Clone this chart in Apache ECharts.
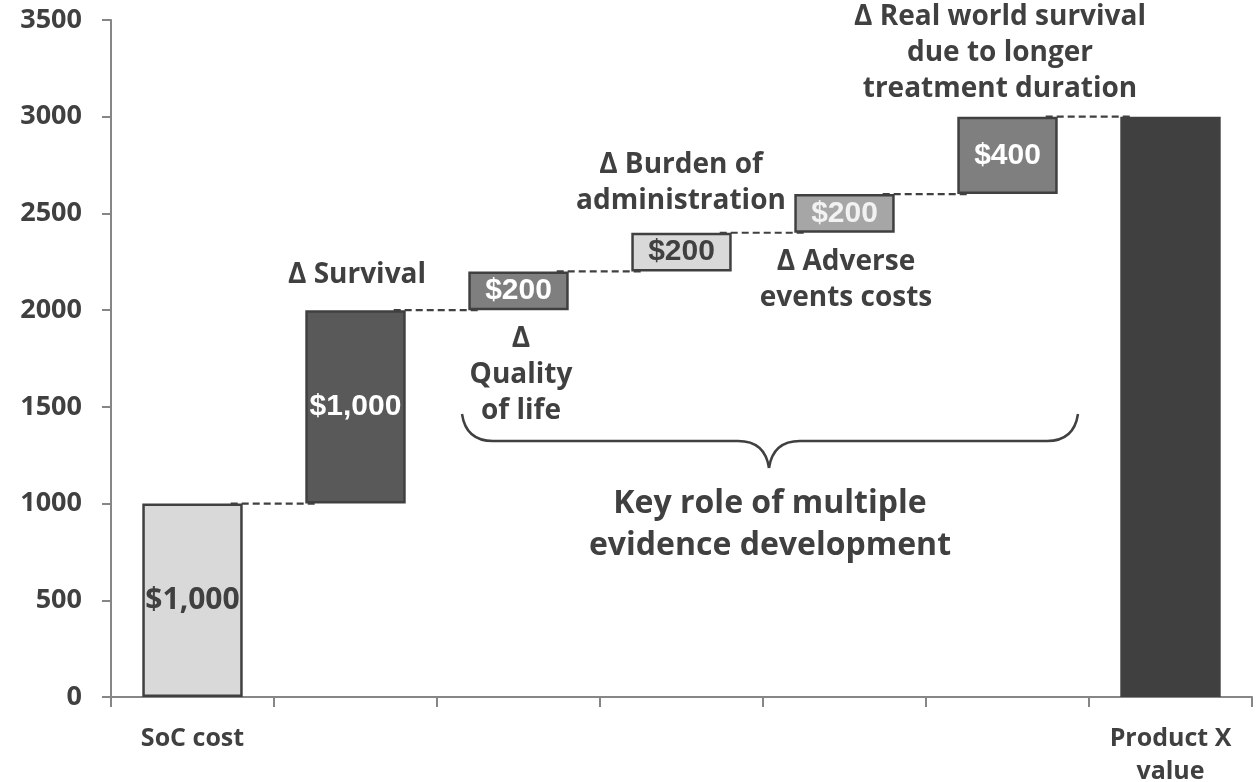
<!DOCTYPE html>
<html>
<head>
<meta charset="utf-8">
<script src="https://cdn.jsdelivr.net/npm/echarts@6/dist/echarts.min.js"></script>
<style>
  html, body { margin: 0; padding: 0; background: #fff; }
  #chart { width: 1259px; height: 782px; }
</style>
</head>
<body>
<div id="chart"></div>
<script>
// categories and values of the waterfall
var categories = ['SoC cost', 'Δ Survival', 'Δ Quality of life', 'Δ Burden of administration',
                  'Δ Adverse events costs', 'Δ Real world survival', 'Product X value'];
var tickLabels = ['SoC cost', '', '', '', '', '', 'Product X\nvalue'];
var deltas = [1000, 1000, 200, 200, 200, 400, 3000];
var isTotal = [true, false, false, false, false, false, true];
var valueLabels = ['$1,000', '$1,000', '$200', '$200', '$200', '$400', ''];
var barColors = ['#d9d9d9', '#595959', '#7f7f7f', '#d9d9d9', '#a6a6a6', '#7f7f7f', '#404040'];
var labelColors = ['#404040', '#ffffff', '#ffffff', '#404040', '#f2f2f2', '#ffffff', '#ffffff'];

// invisible base under each step
var bases = [];
var running = 0;
for (var i = 0; i < deltas.length; i++) {
    if (isTotal[i]) { bases.push(0); running = deltas[i]; }
    else { bases.push(running); running += deltas[i]; }
}
// connector levels: top of each bar, joined to the next one
var connectors = [];
for (var j = 0; j < deltas.length - 1; j++) {
    connectors.push([j, bases[j] + deltas[j]]);
}

var BAR_RATIO = 0.616;
var TEXT = '#404040';
var AXIS = '#868686';
var FONT = '"Open Sans", Lato, sans-serif';

var myChart = echarts.init(document.getElementById('chart'));

// annotation text, y = centre of first line
function note(text, x, yFirst, size, lh) {
    return {
        type: 'text',
        z: 100,
        style: {
            text: text,
            x: x,
            y: yFirst - lh / 2,
            align: 'center',
            verticalAlign: 'top',
            fontFamily: FONT,
            fontWeight: 'bold',
            fontSize: size,
            lineHeight: lh,
            fill: TEXT
        }
    };
}

function curve(x1, y1, cx, cy, x2, y2) {
    return {
        type: 'bezierCurve', z: 100,
        shape: { x1: x1, y1: y1, cpx1: cx, cpy1: cy, x2: x2, y2: y2 },
        style: { fill: null, stroke: TEXT, lineWidth: 2.5 }
    };
}
function seg(x1, y1, x2, y2) {
    return {
        type: 'line', z: 100,
        shape: { x1: x1, y1: y1, x2: x2, y2: y2 },
        style: { stroke: TEXT, lineWidth: 2.5 }
    };
}

var option = {
    animation: false,
    grid: { left: 111, right: 7, top: 20, bottom: 85, containLabel: false, outerBoundsMode: 'none' },
    xAxis: {
        type: 'category',
        data: categories,
        axisLine: { lineStyle: { color: AXIS, width: 2 } },
        axisTick: { show: true, length: 10, lineStyle: { color: AXIS, width: 2 } },
        axisLabel: {
            interval: 0,
            margin: 25,
            color: TEXT,
            fontFamily: FONT,
            fontWeight: 'bold',
            fontSize: 25,
            lineHeight: 33,
            formatter: function (v, idx) { return tickLabels[idx]; }
        }
    },
    yAxis: {
        type: 'value',
        min: 0,
        max: 3500,
        interval: 500,
        axisLine: { show: true, lineStyle: { color: AXIS, width: 2 } },
        axisTick: { show: true, length: 9, lineStyle: { color: AXIS, width: 2 } },
        splitLine: { show: false },
        axisLabel: {
            margin: 29,
            color: TEXT,
            fontFamily: FONT,
            fontWeight: 'bold',
            fontSize: 27,
            formatter: function (v) { return String(v); }
        }
    },
    series: [
        {
            type: 'custom',
            z: 1,
            renderItem: function (params, api) {
                var idx = api.value(0);
                var level = api.value(1);
                var p1 = api.coord([idx, level]);
                var p2 = api.coord([idx + 1, level]);
                var half = api.size([1, 0])[0] * BAR_RATIO / 2;
                return {
                    type: 'line',
                    shape: { x1: p1[0] + half - 12, y1: p1[1], x2: p2[0] - half + 12, y2: p2[1] },
                    style: { stroke: TEXT, lineWidth: 2.2, lineDash: [7, 4] }
                };
            },
            encode: { x: 0, y: 1 },
            data: connectors,
            silent: true
        },
        {
            type: 'bar',
            stack: 'w',
            barWidth: (BAR_RATIO * 100) + '%',
            itemStyle: { color: 'transparent' },
            silent: true,
            data: bases
        },
        {
            type: 'bar',
            stack: 'w',
            z: 3,
            data: deltas.map(function (v, k) {
                return {
                    value: v,
                    itemStyle: {
                        color: barColors[k],
                        borderColor: '#404040',
                        borderWidth: isTotal[k] && k > 0 ? 0 : 2.5
                    },
                    label: {
                        color: labelColors[k],
                        fontFamily: k === 0 ? FONT : '"Liberation Sans", Arial, sans-serif',
                        fontSize: 30
                    }
                };
            }),
            label: {
                show: true,
                position: 'inside',
                fontWeight: 'bold',
                formatter: function (p) { return valueLabels[p.dataIndex]; }
            }
        }
    ],
    graphic: [
        note('Δ Survival', 357, 275, 28, 36),
        note('Δ\nQuality\nof life', 521, 339, 28, 36),
        note('Δ Burden of\nadministration', 681, 165, 28, 36),
        note('Δ Adverse\nevents costs', 846, 262, 28, 36),
        note('Δ Real world survival\ndue to longer\ntreatment duration', 1000, 17, 28, 36),
        note('Key role of multiple\nevidence development', 770, 504, 32, 42),
        // curly brace
        curve(462, 414, 466, 441, 493, 441),
        seg(493, 441, 738, 441),
        curve(738, 441, 765, 441, 769, 468),
        curve(769, 468, 773, 441, 800, 441),
        seg(800, 441, 1047, 441),
        curve(1047, 441, 1074, 441, 1078, 414)
    ]
};

myChart.setOption(option);
</script>
</body>
</html>
